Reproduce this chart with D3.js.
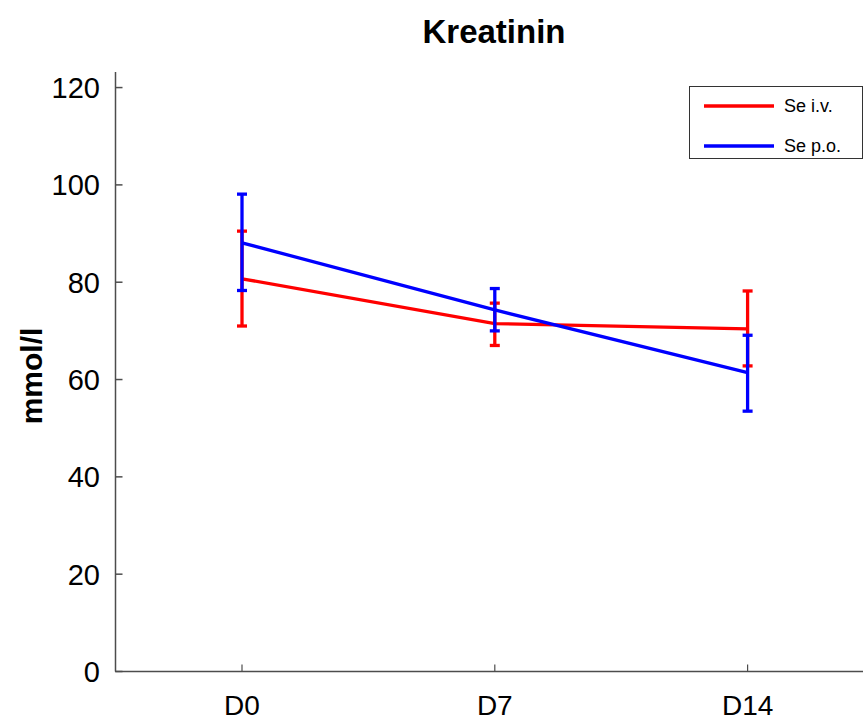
<!DOCTYPE html>
<html>
<head>
<meta charset="utf-8">
<script src="https://cdn.jsdelivr.net/npm/d3@7"></script>
<style>
  html, body { margin: 0; padding: 0; background: #fff; overflow: hidden; }
  svg { display: block; font-family: "Liberation Sans", Arial, Helvetica, sans-serif; }
</style>
</head>
<body>
<svg id="chart" width="863" height="720"></svg>
<script>
// ---- data ----
const categories = ["D0", "D7", "D14"];
const seriesNames = ["Se i.v.", "Se p.o."];
const seriesColors = ["#ff0000", "#0000ff"];
const ivMean  = [80.7, 71.5, 70.4];
const ivLow   = [71.0, 67.0, 62.8];
const ivHigh  = [90.5, 75.7, 78.2];
const poMean  = [88.1, 74.3, 61.4];
const poLow   = [78.3, 70.0, 53.5];
const poHigh  = [98.1, 78.7, 69.1];
const yTicks  = [0, 20, 40, 60, 80, 100, 120];
const titleText = "Kreatinin";
const yLabel = "mmol/l";

const series = [
  { name: seriesNames[0], color: seriesColors[0], mean: ivMean, low: ivLow, high: ivHigh },
  { name: seriesNames[1], color: seriesColors[1], mean: poMean, low: poLow, high: poHigh }
];

const svg = d3.select("#chart");
const axisColor = "#4d4d4d";

const x = d3.scaleLinear().domain([0.5, 3.5]).range([115.6, 874]);
const y = d3.scaleLinear().domain([0, 123.2]).range([671.5, 72]);

// Axes lines
svg.append("line").attr("x1", 115.5).attr("x2", 115.5).attr("y1", y(123.2)).attr("y2", y(0))
  .attr("stroke", axisColor).attr("stroke-width", 1.5);
svg.append("line").attr("x1", 115).attr("x2", 863).attr("y1", y(0)).attr("y2", y(0))
  .attr("stroke", axisColor).attr("stroke-width", 1.5);

// Y ticks (inward)
const yAxisG = svg.append("g");
yTicks.forEach(t => {
  yAxisG.append("line").attr("x1", 115.5).attr("x2", 122.5).attr("y1", y(t)).attr("y2", y(t))
    .attr("stroke", axisColor).attr("stroke-width", 1.5);
  yAxisG.append("text").attr("x", 100).attr("y", y(t)).attr("dy", "0.36em")
    .attr("text-anchor", "end").attr("font-size", 29).attr("fill", "#000").text(t);
});

// X ticks (inward)
categories.forEach((c, i) => {
  svg.append("line").attr("x1", x(i + 1)).attr("x2", x(i + 1)).attr("y1", y(0)).attr("y2", y(0) - 7)
    .attr("stroke", axisColor).attr("stroke-width", 1.2);
  svg.append("text").attr("x", x(i + 1)).attr("y", 715).attr("text-anchor", "middle")
    .attr("font-size", 28).attr("fill", "#000").text(c);
});

// Title
svg.append("text").attr("x", 494).attr("y", 43).attr("text-anchor", "middle")
  .attr("font-size", 33).attr("font-weight", "bold").attr("fill", "#000").text(titleText);

// Y label
svg.append("text").attr("transform", `translate(42,${376}) rotate(-90)`)
  .attr("text-anchor", "middle").attr("font-size", 30).attr("font-weight", "bold")
  .attr("fill", "#000").text(yLabel);

// Series
const line = d3.line().x((d, i) => x(i + 1)).y(d => y(d));
const capHalf = 5;
series.forEach(s => {
  const g = svg.append("g");
  g.append("path").attr("d", line(s.mean)).attr("fill", "none")
    .attr("stroke", s.color).attr("stroke-width", 3.3);
  s.mean.forEach((m, i) => {
    const cx = x(i + 1);
    g.append("line").attr("x1", cx).attr("x2", cx).attr("y1", y(s.low[i])).attr("y2", y(s.high[i]))
      .attr("stroke", s.color).attr("stroke-width", 3.3);
    [s.low[i], s.high[i]].forEach(v => {
      g.append("line").attr("x1", cx - capHalf).attr("x2", cx + capHalf).attr("y1", y(v)).attr("y2", y(v))
        .attr("stroke", s.color).attr("stroke-width", 3.3);
    });
  });
});

// Legend
const lg = svg.append("g");
lg.append("rect").attr("x", 689.5).attr("y", 86.5).attr("width", 173).attr("height", 72)
  .attr("fill", "#fff").attr("stroke", "#333").attr("stroke-width", 1);
series.forEach((s, i) => {
  const ly = 106 + i * 40;
  lg.append("line").attr("x1", 704).attr("x2", 774).attr("y1", ly).attr("y2", ly)
    .attr("stroke", s.color).attr("stroke-width", 3.3);
  lg.append("text").attr("x", 784).attr("y", ly).attr("dy", "0.36em")
    .attr("font-size", 18).attr("fill", "#000").text(s.name);
});
</script>
</body>
</html>
